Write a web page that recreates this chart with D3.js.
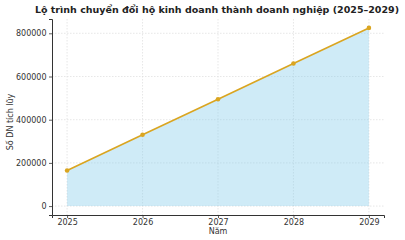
<!DOCTYPE html>
<html>
<head>
<meta charset="utf-8">
<script src="https://cdn.jsdelivr.net/npm/d3@7"></script>
<style>
  body { margin: 0; background: #fff; }
  svg text { font-family: "DejaVu Sans", sans-serif; }
</style>
</head>
<body>
<div id="chart"></div>
<script>
var years = [2025, 2026, 2027, 2028, 2029];
var cumulative = [165000, 330000, 495000, 660000, 825000];
var yTicks = [0, 200000, 400000, 600000, 800000];

var svgWidth = 405;
var svgHeight = 240;
var margin = { top: 19, right: 21, bottom: 25, left: 52 };
var width = svgWidth - margin.left - margin.right;
var height = svgHeight - margin.top - margin.bottom;

var svg = d3.select("#chart")
    .append("svg")
    .attr("width", svgWidth)
    .attr("height", svgHeight);

var chartGroup = svg.append("g")
    .attr("transform", `translate(${margin.left}, ${margin.top})`);

var data = years.map(function(y, i) { return { year: y, value: cumulative[i] }; });

// matplotlib-style 5% margins
var xLinearScale = d3.scaleLinear()
    .domain([2025 - 0.2, 2029 + 0.2])
    .range([0, width]);
var yLinearScale = d3.scaleLinear()
    .domain([-41250, 866250])
    .range([height, 0]);

// grid
chartGroup.append("g").selectAll("line")
    .data(years).enter().append("line")
    .attr("x1", d => xLinearScale(d)).attr("x2", d => xLinearScale(d))
    .attr("y1", 0).attr("y2", height)
    .attr("stroke", "#dcdcdc").attr("stroke-width", 0.7)
    .attr("stroke-dasharray", "1.5,1.5");
chartGroup.append("g").selectAll("line")
    .data(yTicks).enter().append("line")
    .attr("x1", 0).attr("x2", width)
    .attr("y1", d => yLinearScale(d)).attr("y2", d => yLinearScale(d))
    .attr("stroke", "#dcdcdc").attr("stroke-width", 0.7)
    .attr("stroke-dasharray", "1.5,1.5");

// area
var area = d3.area()
    .x(d => xLinearScale(d.year))
    .y0(yLinearScale(0))
    .y1(d => yLinearScale(d.value));
chartGroup.append("path")
    .datum(data)
    .attr("d", area)
    .attr("fill", "#87ceeb")
    .attr("fill-opacity", 0.4);

// line
var line = d3.line()
    .x(d => xLinearScale(d.year))
    .y(d => yLinearScale(d.value));
chartGroup.append("path")
    .datum(data)
    .attr("d", line)
    .attr("fill", "none")
    .attr("stroke", "#daa520")
    .attr("stroke-width", 1.6);
chartGroup.selectAll("circle")
    .data(data).enter().append("circle")
    .attr("cx", d => xLinearScale(d.year))
    .attr("cy", d => yLinearScale(d.value))
    .attr("r", 2.3)
    .attr("fill", "#daa520");

// axes
var bottomAxis = d3.axisBottom(xLinearScale).tickValues(years).tickFormat(d3.format("d"))
    .tickSizeOuter(0).tickSize(3).tickPadding(1.5);
var leftAxis = d3.axisLeft(yLinearScale).tickValues(yTicks).tickFormat(d3.format("d"))
    .tickSizeOuter(0).tickSize(3).tickPadding(2.5);

var gx = chartGroup.append("g")
    .attr("transform", `translate(0, ${height})`)
    .call(bottomAxis);
var gy = chartGroup.append("g")
    .call(leftAxis);
[gx, gy].forEach(function(g) {
  g.select(".domain").attr("stroke", "#333").attr("stroke-width", 1);
  g.selectAll(".tick line").attr("stroke", "#333").attr("stroke-width", 0.8);
  g.selectAll(".tick text").attr("fill", "#333").style("font-size", "8px").style("font-family", "DejaVu Sans");
});

// labels
svg.append("text")
    .attr("x", margin.left + width / 2 - 1)
    .attr("y", 13)
    .attr("text-anchor", "middle")
    .style("font-size", "9.5px")
    .style("font-weight", "bold")
    .attr("fill", "#222")
    .text("Lộ trình chuyển đổi hộ kinh doanh thành doanh nghiệp (2025–2029)");

svg.append("text")
    .attr("x", margin.left + width / 2)
    .attr("y", 234)
    .attr("text-anchor", "middle")
    .style("font-size", "8px")
    .attr("fill", "#333")
    .text("Năm");

svg.append("text")
    .attr("transform", "translate(13, 122) rotate(-90)")
    .attr("text-anchor", "middle")
    .style("font-size", "8px")
    .attr("fill", "#333")
    .text("Số DN tích lũy");
</script>
</body>
</html>
